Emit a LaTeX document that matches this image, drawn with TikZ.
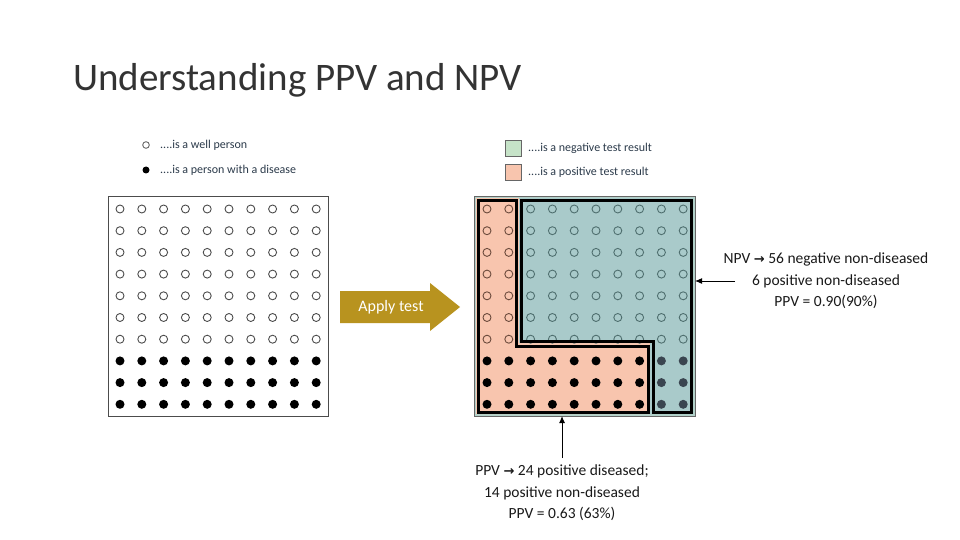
\documentclass[tikz,border=0pt]{standalone}
\usepackage{fontspec}
\setmainfont{Carlito}
\newfontfamily\dvs{DejaVu Sans}
\usetikzlibrary{arrows.meta}
\definecolor{pinkf}{HTML}{F8C5AE}
\definecolor{greenf}{HTML}{A9CACA}
\definecolor{legg}{HTML}{C6E3C8}
\definecolor{gold}{HTML}{B8931F}
\definecolor{brownc}{HTML}{6B4A3C}
\definecolor{tealc}{HTML}{4F6F6F}
\definecolor{slate}{HTML}{3A4550}
\definecolor{legtxt}{HTML}{2B3A4A}
\begin{document}
\begin{tikzpicture}[x=1pt,y=-1pt,
  opn/.style={draw=#1,line width=0.9pt},
  lab/.style={font=\fontsize{15.5}{21.5}\selectfont, align=center, text=black!90},
  leg/.style={font=\fontsize{12}{14}\selectfont, text=legtxt, anchor=west, inner sep=0pt}]
\useasboundingbox (0,0) rectangle (960,540);
\node[anchor=west, font=\fontsize{39}{42}\selectfont, text=black!80, inner sep=0] (title) at (73,80) {Understanding PPV and NPV};
% left legend
\draw[opn=black!60] (146,145) circle (3.3);
\node[leg] (l1) at (160,145) {....is a well person};
\fill (146,170) circle (3.5);
\node[leg] (l2) at (160,170) {....is a person with a disease};
% right legend
\draw[black!60, fill=legg] (505,140) rectangle (521,156);
\node[leg] (l3) at (528,148) {....is a negative test result};
\draw[black!60, fill=pinkf] (505,164) rectangle (521,180);
\node[leg] (l4) at (528,172) {....is a positive test result};
% left grid
\draw[black!70, line width=0.8pt] (108,196) rectangle (328,416);
\foreach \i in {0,...,9}{
 \foreach \j in {0,...,6}{ \draw[opn=black!70] ({120+21.8*\i},{209+21.7*\j}) circle (4); }
 \foreach \j in {7,8,9}{ \fill ({120+21.8*\i},{209+21.7*\j}) circle (4.5); }
}
% right grid
\draw[black!60, line width=1pt, fill=greenf!70!legg] (474,196) rectangle (695,416);
\fill[pinkf] (476,198) -- (519,198) -- (519,343) -- (650,343) -- (650,414) -- (476,414) -- cycle;
\fill[greenf] (519,198) -- (693,198) -- (693,414) -- (650,414) -- (650,343) -- (519,343) -- cycle;
\foreach \i in {0,...,9}{
 \foreach \j in {0,...,6}{
  \ifnum\i<2 \draw[opn=brownc] ({487+21.8*\i},{209+21.7*\j}) circle (4);
  \else \draw[opn=tealc] ({487+21.8*\i},{209+21.7*\j}) circle (4); \fi }
 \foreach \j in {7,8,9}{
  \ifnum\i<8 \fill ({487+21.8*\i},{209+21.7*\j}) circle (4.5);
  \else \fill[slate] ({487+21.8*\i},{209+21.7*\j}) circle (4.5); \fi }
}
\draw[line width=3pt] (478,200) -- (516,200) -- (516,346) -- (648,346) -- (648,412) -- (478,412) -- cycle;
\draw[line width=3pt] (521,200) -- (691,200) -- (691,412) -- (653,412) -- (653,341) -- (521,341) -- cycle;
% apply test arrow
\fill[gold] (340,291) -- (430,291) -- (430,283) -- (460,307) -- (430,331) -- (430,323) -- (340,323) -- cycle;
\node[text=white, font=\fontsize{16}{18}\selectfont] (ap) at (391,307) {Apply test};
% labels
\node[lab] (npv) at (826,281) {NPV {\dvs\bfseries\fontsize{13}{14}\selectfont →} 56 negative non-diseased\\6 positive non-diseased\\PPV = 0.90(90\%)};
\coordinate (npvt) at (735,281);
\coordinate (npvh) at (695,281);
\draw[-{Latex[length=7pt,width=6pt]}, line width=1pt] (npvt) -- (npvh);
\node[lab] (ppv) at (562,493) {PPV {\dvs\bfseries\fontsize{13}{14}\selectfont →} 24 positive diseased;\\14 positive non-diseased\\PPV = 0.63 (63\%)};
\coordinate (ppvt) at (562,458);
\coordinate (ppvh) at (562,416);
\draw[-{Latex[length=7pt,width=6pt]}, line width=1pt] (ppvt) -- (ppvh);
\end{tikzpicture}
\end{document}
